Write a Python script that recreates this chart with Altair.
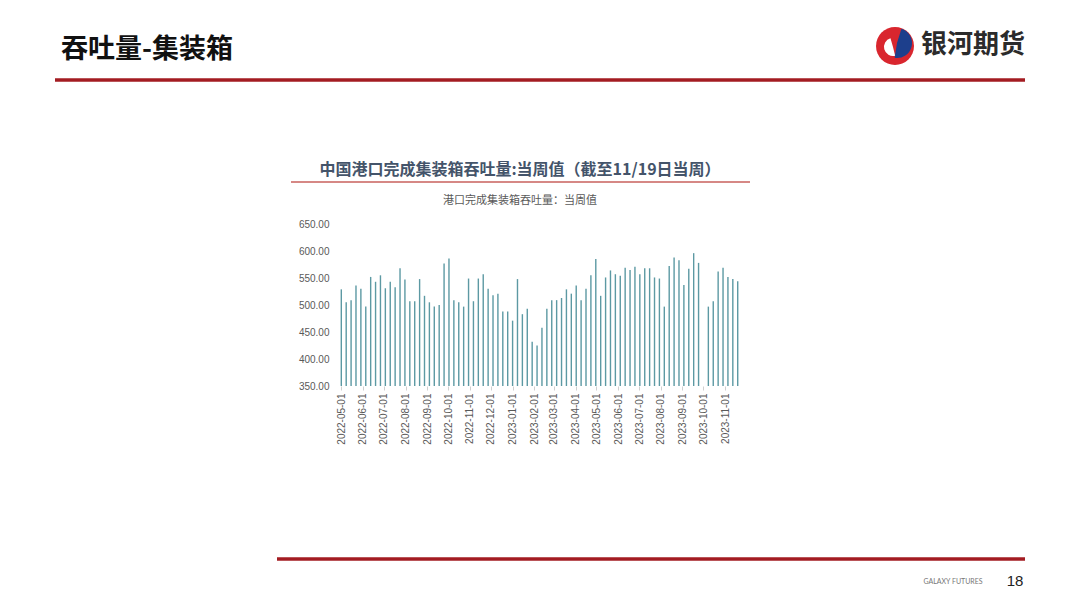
import altair as alt
import pandas as pd

# ---- data ----
start_week = "2022-05-01"
n_weeks = 82
values = [529, 505, 509, 536, 530, 497, 552, 543, 555, 531,
          543, 533, 568, 547, 507, 507, 548, 517, 505, 497,
          500, 577, 586, 509, 505, 497, 549, 507, 549, 557,
          530, 518, 521, 488, 488, 471, 548, 483, 493, 432,
          425, 458, 493, 509, 509, 513, 529, 521, 536, 509,
          530, 555, 585, 517, 551, 564, 557, 554, 569, 565,
          571, 557, 568, 568, 551, 549, 497, 572, 588, 583,
          537, 567, 596, 578, None, 497, 507, 562, 569, 552,
          548, 544]
month_ticks = ["2022-05-01", "2022-06-01", "2022-07-01", "2022-08-01", "2022-09-01",
               "2022-10-01", "2022-11-01", "2022-12-01", "2023-01-01", "2023-02-01",
               "2023-03-01", "2023-04-01", "2023-05-01", "2023-06-01", "2023-07-01",
               "2023-08-01", "2023-09-01", "2023-10-01", "2023-11-01"]
y_ticks = [350, 400, 450, 500, 550, 600, 650]

page_title = "吞吐量-集装箱"
chart_title = "中国港口完成集装箱吞吐量:当周值（截至11/19日当周）"
series_name = "港口完成集装箱吞吐量：当周值"
logo_text = "银河期货"
footer_text = "GALAXY FUTURES"
page_no = "18"

dates = pd.date_range(start_week, periods=n_weeks, freq="7D")
df = pd.DataFrame({"date": dates.strftime("%Y-%m-%d"), "value": values}).dropna()


def ms(s):
    return int(pd.Timestamp(s, tz="UTC").value // 10**6)


tick_ms = [ms(t) for t in month_ticks]
dom = [ms("2022-04-23 10:00"), ms("2023-11-25 03:00")]

# plot area placement (page coordinates)
OX, OY = 336, 224
W, H = 406, 162
CJK = "Noto Sans CJK SC"

bars = alt.Chart(df).mark_rule(color="#5c99a3", strokeWidth=1.4).encode(
    x=alt.X("date:T", scale=alt.Scale(type="utc", domain=dom),
            axis=alt.Axis(values=tick_ms, labelExpr="utcFormat(datum.value, '%Y-%m-%d')",
                          labelAngle=270, labelFontSize=10, labelColor="#595959",
                          labelFont="Liberation Sans", domain=False, ticks=True,
                          tickColor="#d0d0d0", tickSize=4, grid=False, title=None,
                          labelPadding=3, labelOverlap=False)),
    y=alt.Y("value:Q", scale=alt.Scale(domain=[350, 650], zero=False, nice=False),
            axis=alt.Axis(values=y_ticks, format=".2f", labelFontSize=10,
                          labelColor="#595959", labelFont="Liberation Sans",
                          domain=False, ticks=False, grid=False, title=None,
                          labelPadding=7)),
    y2=alt.datum(350),
)

one = alt.Data(values=[{}])


def txt(text, x, y, size, color, weight="normal", align="left", font=CJK):
    return alt.Chart(one).mark_text(text=text, fontSize=size, color=color,
                                    fontWeight=weight, align=align, baseline="middle",
                                    font=font).encode(x=alt.value(x - OX), y=alt.value(y - OY))


def hline(x1, x2, y, color, w):
    return alt.Chart(one).mark_rule(color=color, strokeWidth=w).encode(
        x=alt.value(x1 - OX), x2=alt.value(x2 - OX), y=alt.value(y - OY))


def arc(cx, cy, r, r2, t1, t2, color):
    return alt.Chart(one).mark_arc(color=color, radius=r, radius2=r2).encode(
        x=alt.value(cx - OX), y=alt.value(cy - OY),
        theta=alt.value(t1), theta2=alt.value(t2))


layers = [
    hline(55, 1025, 80, "#a31c22", 3.5),
    hline(277, 1025, 559, "#a31c22", 3.5),
    hline(291, 750, 182, "#c9605c", 1.5),
    txt(page_title, 61, 50, 27, "#111111", "bold"),
    txt(logo_text, 921, 45, 26, "#2b2b2b", "bold"),
    arc(895, 46, 19, 0, 0, 6.2832, "#d9262e"),
    arc(897, 43, 15, 0, 0.3, 3.3, "#1d3f8c"),
    arc(893, 47, 9, 0, 2.9, 6.0, "#ffffff"),
    txt(chart_title, 520, 170, 16, "#44546a", "bold", "center"),
    txt(series_name, 520, 201, 11, "#595959", "normal", "center"),
    txt(footer_text, 953, 582, 7, "#777777", "normal", "center", "Lato"),
    txt(page_no, 1015, 581, 15, "#222222", "normal", "center", "Liberation Sans"),
    bars,
]

chart = alt.layer(*layers).properties(
    width=W, height=H,
    background="white",
    autosize=alt.AutoSizeParams(type="none"),
    padding={"left": OX - 8, "top": OY - 8, "right": 1064 - (OX - 8) - W,
             "bottom": 592 - (OY - 8) - H},
).configure_view(strokeWidth=0)

chart.save("out.html", embed_options={"renderer": "svg", "actions": False})
